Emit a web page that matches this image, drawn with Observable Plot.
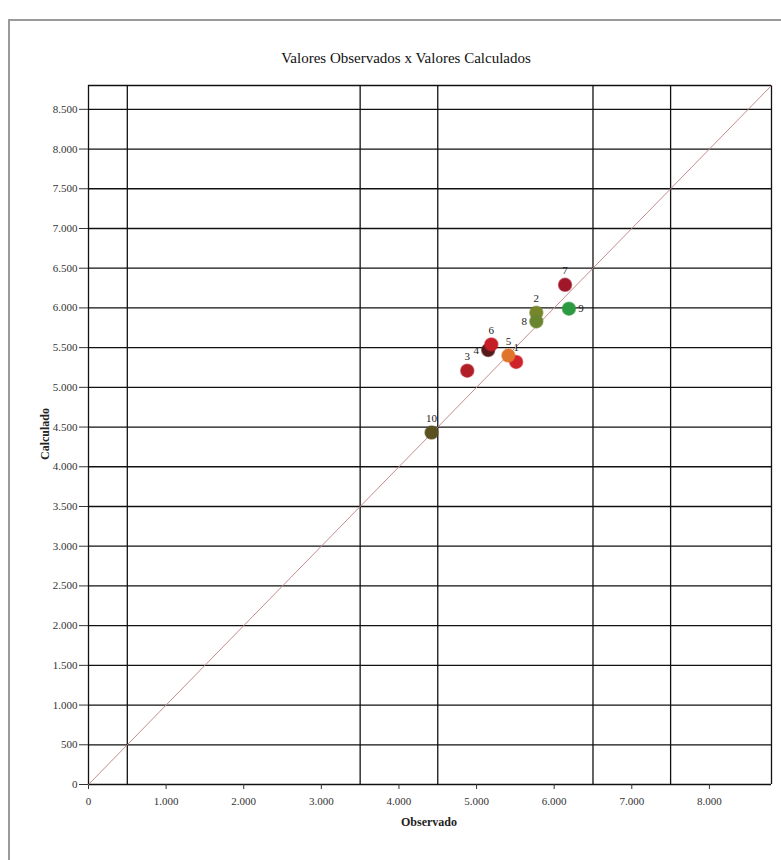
<!DOCTYPE html>
<html><head><meta charset="utf-8">
<script src="https://cdn.jsdelivr.net/npm/d3@7"></script>
<script src="https://cdn.jsdelivr.net/npm/@observablehq/plot@0.6"></script>
<style>
body{margin:0;background:#fff;}
#wrap{position:relative;width:781px;height:860px;overflow:hidden;font-family:"Liberation Serif","Times New Roman",serif;color:#222;}
#frame{position:absolute;left:8px;top:19px;width:790px;height:860px;border:2px solid #9a9a9a;box-sizing:border-box;}
#chart{position:absolute;left:0;top:0;}
#title{position:absolute;top:50px;left:0;width:812px;text-align:center;font-size:15px;color:#111;}
#ylab{position:absolute;left:45px;top:434px;transform:translate(-50%,-50%) rotate(-90deg);font-weight:bold;font-size:12px;white-space:nowrap;}
#xlab{position:absolute;left:429px;top:822px;transform:translate(-50%,-50%);font-weight:bold;font-size:12px;}
</style></head>
<body>
<div id="wrap">
  <div id="frame"></div>
  <div id="chart"></div>
  <div id="title">Valores Observados x Valores Calculados</div>
  <div id="ylab">Calculado</div>
  <div id="xlab">Observado</div>
</div>
<script>
const ids        = [1, 2, 3, 4, 5, 6, 7, 8, 9, 10];
const observado  = [5510, 5770, 4880, 5150, 5410, 5190, 6140, 5770, 6190, 4420];
const calculado  = [5320, 5940, 5210, 5470, 5400, 5540, 6290, 5830, 5990, 4430];
const colors     = ["#d0222a", "#77862a", "#b01f28", "#561a1a", "#e0742a", "#c41e26", "#a0172a", "#6a8530", "#2c9a40", "#5a5020"];
const labelDx    = [0, 0, 0, -12, 0, 0, 0, -12, 12, 0];
const labelDy    = [-14, -14, -14, 0, -14, -14, -14, 0, 0, -14];
const xTicks     = [0, 1000, 2000, 3000, 4000, 5000, 6000, 7000, 8000];
const yTicks     = [0, 500, 1000, 1500, 2000, 2500, 3000, 3500, 4000, 4500, 5000, 5500, 6000, 6500, 7000, 7500, 8000, 8500];
const hGrid      = [500, 1000, 1500, 2000, 2500, 3000, 3500, 4000, 4500, 5000, 5500, 6000, 6500, 7000, 7500, 8000, 8500, 8800];
const vGrid      = [500, 3500, 4500, 6500, 7500, 8800];
const axisMax    = 8800;
const diagonal   = [0, axisMax];

const data = ids.map((id, i) => ({id, x: observado[i], y: calculado[i], c: colors[i], dx: labelDx[i], dy: labelDy[i]}));
const loc = d3.formatLocale({decimal: ",", thousands: ".", grouping: [3], currency: ["R$", ""]});
const fmt = loc.format(",d");

const labelMarks = data.map(d => Plot.text([d], {x: "x", y: "y", text: "id", dx: d.dx, dy: d.dy, fontSize: 11, fill: "#222"}));

const chart = Plot.plot({
  width: 781, height: 860,
  marginLeft: 88, marginRight: 10, marginTop: 85, marginBottom: 76,
  style: {fontFamily: "Liberation Serif", fontSize: "11px", background: "transparent", color: "#333"},
  x: {domain: [0, axisMax], label: null},
  y: {domain: [0, axisMax], label: null},
  color: {type: "identity"},
  marks: [
    Plot.ruleY(hGrid, {stroke: "#111", strokeWidth: 1.3}),
    Plot.ruleX(vGrid, {stroke: "#111", strokeWidth: 1.3}),
    Plot.ruleY([0], {stroke: "#111", strokeWidth: 1.3}),
    Plot.ruleX([0], {stroke: "#111", strokeWidth: 1.3}),
    Plot.axisX({ticks: xTicks, tickFormat: fmt, tickSize: 5, tickPadding: 8, label: null, stroke: "#333"}),
    Plot.axisY({ticks: yTicks, tickFormat: fmt, tickSize: 9, tickPadding: 2, label: null, stroke: "#333"}),
    Plot.line(diagonal, {x: d => d, y: d => d, stroke: "#c48c8c", strokeWidth: 1}),
    Plot.dot(data, {x: "x", y: "y", fill: "c", r: 6.5, stroke: "c", strokeOpacity: 0.6}),
    ...labelMarks
  ]
});
document.getElementById("chart").appendChild(chart);
</script>
</body></html>
